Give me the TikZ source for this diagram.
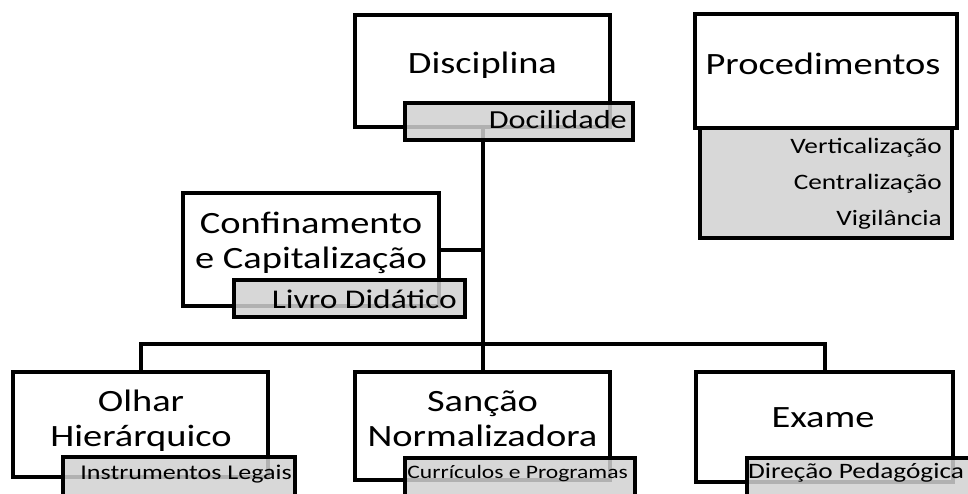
\documentclass[tikz,border=0pt]{standalone}
\usepackage{fontspec}
\setmainfont{Carlito}[FakeStretch=1.24]
\usepackage{tikz}

\begin{document}
\begin{tikzpicture}
	[x=1pt,y=-1pt,line cap=round,
	%Styles
	box/.style={draw=black,line width=4.5pt,fill=white,inner sep=0pt},
	sub box/.style={draw=black,line width=4.5pt,fill=subgray,fill opacity=.85,inner sep=0pt},
	connector/.style={line width=4pt,line cap=rect},
	title text/.style={font=\fontsize{31}{35}\selectfont,align=center,inner sep=0pt,anchor=base},
	sub text/.style={font=\fontsize{#1}{#1}\selectfont,inner sep=0pt,anchor=base east}
	]
	
	%Colors
	\colorlet{subgray}{black!18}	%lower label boxes
	
	\useasboundingbox (0,0) rectangle (968,493);
	\clip (0,0) rectangle (968,493);
	
	%The boxes
	\node[box,minimum width=255pt,minimum height=112pt] (disc) at (482.5,71) {};
	\node[box,minimum width=262pt,minimum height=114pt] (proc) at (826,71) {};
	\node[box,minimum width=256pt,minimum height=113pt] (conf) at (311,249.5) {};
	\node[box,minimum width=255pt,minimum height=105pt] (olhar) at (140.5,424.5) {};
	\node[box,minimum width=255pt,minimum height=108pt] (sanc) at (482.5,426) {};
	\node[box,minimum width=257pt,minimum height=110pt] (exame) at (824.5,427) {};
	
	%Connectors
	\coordinate (bus) at (482.5,344);
	\draw[connector] (disc.south) -- (sanc.north);
	\draw[connector] (conf.east) -- (conf.east -| disc.south);
	\draw[connector] (olhar.north) |- (bus) -| (exame.north);
	
	%Lower label boxes
	\node[sub box,minimum width=228pt,minimum height=37pt] (doc) at (519,121.5) {};
	\node[sub box,minimum width=252pt,minimum height=110pt] (procsub) at (826,183) {};
	\node[sub box,minimum width=231pt,minimum height=37pt] (livro) at (349.5,298.5) {};
	\node[sub box,minimum width=232pt,minimum height=53pt] (instr) at (179,483.5) {};
	\node[sub box,minimum width=230pt,minimum height=52pt] (curr) at (520,484) {};
	\node[sub box,minimum width=243pt,minimum height=52pt] (dir) at (868.5,484) {};
	
	%Texts (base = last line)
	\node[title text] (discT) at (482.5,73) {Disciplina};
	\node[title text] (procT) at (823,74) {Procedimentos};
	\node[title text] (confT) at (311,268) {Confinamento\\e Capitalização};
	\node[title text] (olharT) at (141,446) {Olhar\\Hierárquico};
	\node[title text] (sancT) at (482.5,446) {Sanção\\Normalizadora};
	\node[title text] (exameT) at (823,427) {Exame};
	
	\node[sub text=26] (docT) at (627,128) {Docilidade};
	\node[sub text=22,align=right,font=\fontsize{22}{36}\selectfont] (procsubT) at (942,225) {Verticalização\\Centralização\\Vigilância};
	\node[sub text=27] (livroT) at (457,308) {Livro Didático};
	\node[sub text=21] (instrT) at (292,479) {Instrumentos Legais};
	\node[sub text=19] (currT) at (628,478) {Currículos e Programas};
	\node[sub text=22,anchor=base west] (dirT) at (748,478) {Direção Pedagógica};
\end{tikzpicture}
\end{document}
